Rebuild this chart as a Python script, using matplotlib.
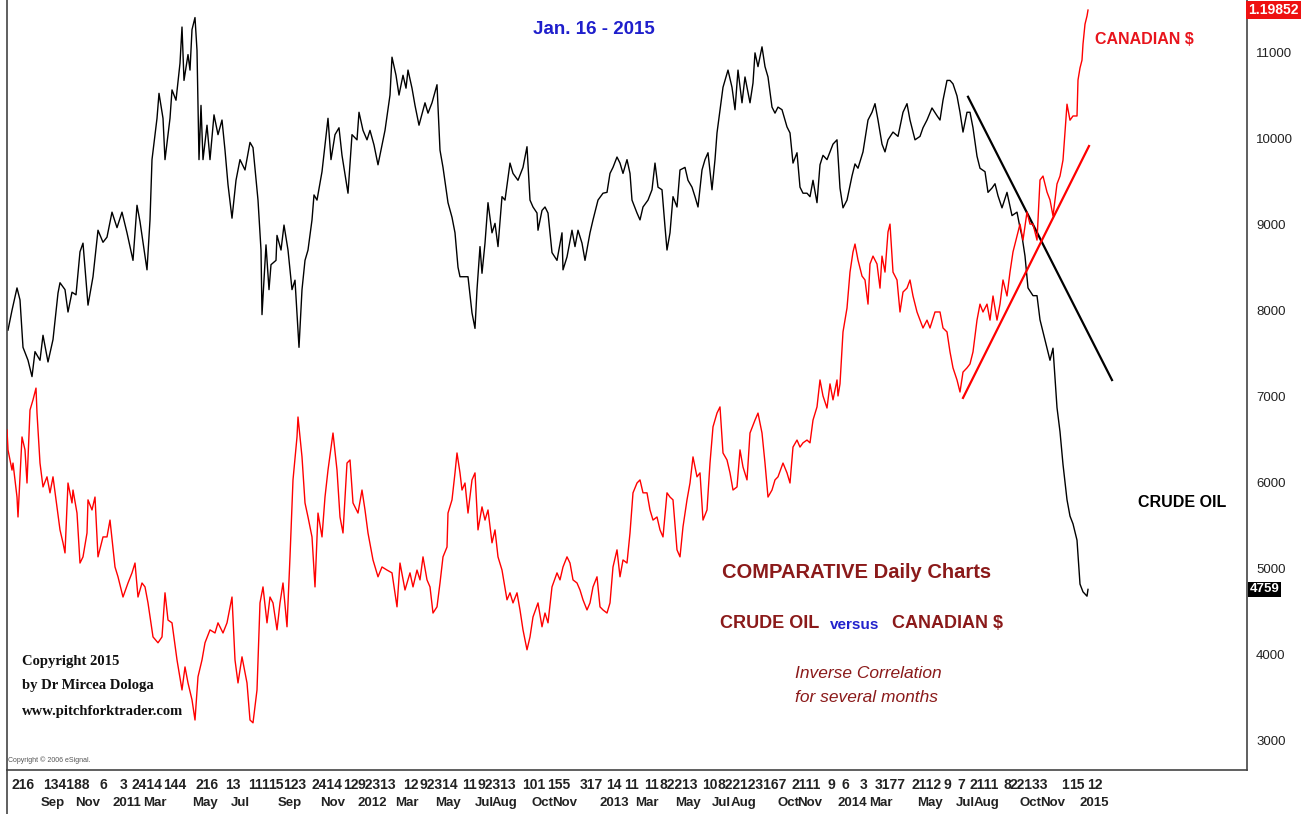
import matplotlib
matplotlib.use('Agg')
import matplotlib.pyplot as plt
from matplotlib.lines import Line2D

# crude oil (price x100)
oil_days = [8, 12, 17, 20, 23, 28, 32, 35, 40, 43, 48, 53, 58, 60, 65, 68, 72, 76, 80, 83,
            88, 93, 98, 103, 107, 112, 117, 122, 127, 133, 137, 140, 147, 150, 152, 157, 159, 163, 165, 170,
            172, 176, 180, 182, 184, 188, 190, 192, 195, 197, 199, 201, 203, 207, 210, 214, 218, 222, 225, 228,
            232, 236, 240, 245, 250, 253, 258, 261, 262, 266, 269, 271, 276, 277, 281, 284, 288, 292, 295, 299,
            302, 305, 308, 312, 314, 317, 322, 325, 328, 331, 335, 339, 342, 348, 352, 357, 359, 363, 367, 370,
            374, 378, 382, 385, 390, 392, 396, 399, 403, 406, 408, 412, 415, 419, 425, 428, 432, 437, 440, 443,
            448, 452, 455, 458, 460, 465, 468, 472, 475, 477, 480, 482, 485, 488, 492, 495, 498, 502, 505, 510,
            513, 518, 523, 527, 530, 533, 537, 538, 542, 545, 548, 552, 557, 562, 563, 567, 572, 575, 578, 582,
            585, 590, 593, 598, 603, 607, 610, 613, 617, 620, 623, 627, 630, 632, 637, 640, 643, 648, 652, 655,
            658, 662, 665, 667, 670, 673, 677, 680, 685, 688, 692, 695, 698, 702, 705, 708, 712, 715, 717, 720,
            723, 728, 732, 735, 738, 742, 745, 750, 753, 755, 758, 762, 765, 768, 772, 775, 778, 782, 787, 790,
            793, 797, 800, 803, 807, 810, 813, 817, 820, 823, 827, 833, 837, 840, 843, 847, 852, 855, 858, 863,
            868, 872, 875, 878, 882, 885, 888, 893, 898, 903, 907, 910, 915, 920, 923, 927, 932, 937, 940, 943,
            947, 950, 953, 957, 960, 963, 967, 970, 973, 977, 980, 985, 988, 992, 995, 998, 1002, 1007, 1012, 1017,
            1020, 1022, 1025, 1028, 1033, 1037, 1040, 1043, 1047, 1050, 1053, 1057, 1060, 1063, 1067, 1070, 1073, 1077, 1080, 1083,
            1087, 1088]
oil_vals = [7770, 8000, 8260, 8120, 7570, 7420, 7230, 7520, 7420, 7710, 7400, 7660, 8200, 8320, 8240, 7980, 8210, 8180, 8680, 8780,
            8060, 8390, 8930, 8790, 8850, 9140, 8960, 9140, 8900, 8580, 9220, 9030, 8470, 9050, 9750, 10230, 10520, 10230, 9750, 10230,
            10560, 10440, 10870, 11290, 10670, 10970, 10790, 11260, 11400, 11020, 9750, 10380, 9750, 10150, 9750, 10270, 10040, 10210, 9860, 9460,
            9070, 9510, 9750, 9630, 9950, 9890, 9280, 8700, 7950, 8760, 8240, 8530, 8580, 8870, 8700, 8990, 8700, 8240, 8350, 7570,
            8240, 8580, 8700, 9050, 9340, 9280, 9610, 9920, 10230, 9750, 10040, 10120, 9800, 9360, 10040, 9980, 10300, 10090, 9980, 10090,
            9920, 9690, 9920, 10090, 10500, 10940, 10730, 10500, 10730, 10580, 10790, 10580, 10380, 10150, 10410, 10290, 10410, 10620, 9860, 9660,
            9250, 9080, 8900, 8500, 8390, 8390, 8390, 7970, 7790, 8240, 8740, 8430, 8780, 9250, 8900, 9010, 8740, 9320, 9280, 9710,
            9590, 9510, 9660, 9900, 9280, 9200, 9130, 8930, 9160, 9200, 9130, 8670, 8580, 8900, 8470, 8620, 8930, 8740, 8930, 8780,
            8580, 8900, 9050, 9280, 9360, 9370, 9590, 9660, 9780, 9710, 9590, 9750, 9590, 9280, 9130, 9050, 9200, 9280, 9400, 9710,
            9430, 9400, 8970, 8700, 8900, 9320, 9200, 9630, 9660, 9510, 9430, 9320, 9200, 9630, 9750, 9830, 9400, 9750, 10060, 10330,
            10590, 10790, 10590, 10330, 10790, 10410, 10710, 10410, 10640, 10990, 10830, 11060, 10830, 10710, 10360, 10290, 10360, 10330, 10130, 10060,
            9710, 9830, 9430, 9360, 9360, 9320, 9510, 9250, 9690, 9800, 9750, 9930, 9980, 9420, 9190, 9280, 9560, 9700, 9650, 9840,
            10210, 10300, 10400, 10210, 9930, 9840, 9980, 10070, 10020, 10300, 10400, 10210, 9980, 10020, 10120, 10210, 10350, 10260, 10210, 10440,
            10670, 10670, 10630, 10490, 10300, 10070, 10300, 10300, 10120, 9790, 9650, 9610, 9370, 9420, 9470, 9330, 9190, 9370, 9100, 9140,
            8960, 8860, 8630, 8260, 8170, 8170, 7890, 7750, 7560, 7420, 7560, 6870, 6590, 6210, 5800, 5610, 5520, 5330, 4820, 4730,
            4680, 4759]

# canadian dollar (USD/CAD), same sessions scale
cad_days = [7, 8, 12, 13, 17, 18, 22, 25, 27, 30, 33, 36, 37, 40, 43, 47, 50, 53, 57, 60,
            63, 65, 68, 72, 73, 77, 80, 83, 87, 88, 92, 95, 98, 103, 107, 110, 115, 118, 123, 128,
            132, 135, 138, 142, 145, 148, 153, 158, 162, 165, 168, 172, 177, 182, 185, 188, 192, 195, 198, 202,
            205, 210, 215, 218, 223, 227, 232, 235, 238, 242, 247, 250, 253, 257, 260, 263, 267, 270, 273, 277,
            280, 283, 287, 290, 293, 297, 298, 302, 305, 308, 312, 315, 318, 322, 325, 328, 333, 337, 340, 343,
            347, 350, 353, 358, 362, 365, 368, 373, 378, 382, 387, 392, 397, 400, 405, 410, 413, 417, 420, 423,
            427, 430, 433, 437, 440, 443, 447, 448, 452, 455, 457, 460, 462, 465, 468, 472, 475, 478, 482, 485,
            488, 492, 495, 498, 502, 507, 510, 513, 517, 520, 523, 527, 530, 533, 538, 542, 545, 548, 552, 557,
            560, 563, 567, 570, 573, 577, 580, 583, 587, 590, 593, 597, 600, 603, 607, 610, 613, 617, 620, 623,
            627, 630, 633, 637, 640, 643, 647, 650, 653, 657, 660, 663, 667, 670, 673, 677, 680, 683, 687, 690,
            693, 697, 700, 703, 707, 710, 713, 717, 720, 723, 727, 730, 733, 737, 740, 743, 747, 750, 755, 758,
            762, 765, 768, 772, 775, 778, 783, 787, 790, 793, 797, 800, 803, 807, 810, 813, 817, 820, 823, 827,
            830, 833, 837, 838, 840, 843, 847, 850, 853, 855, 858, 862, 865, 868, 870, 873, 877, 880, 882, 885,
            888, 890, 893, 897, 900, 903, 907, 910, 913, 917, 920, 923, 927, 930, 935, 940, 943, 947, 950, 953,
            957, 960, 963, 967, 970, 973, 977, 980, 983, 987, 990, 993, 997, 1000, 1003, 1007, 1010, 1013, 1017, 1020,
            1023, 1027, 1030, 1033, 1037, 1040, 1043, 1047, 1050, 1053, 1057, 1060, 1063, 1067, 1070, 1073, 1077, 1078, 1080, 1082,
            1083, 1085, 1087, 1088]
cad_vals = [1.0490, 1.0419, 1.0347, 1.0372, 1.0251, 1.0180, 1.0465, 1.0419, 1.0301, 1.0561, 1.0597, 1.0639, 1.0550, 1.0372, 1.0287, 1.0323, 1.0266, 1.0323, 1.0216, 1.0134,
            1.0088, 1.0052, 1.0301, 1.0230, 1.0276, 1.0194, 1.0016, 1.0038, 1.0123, 1.0241, 1.0205, 1.0251, 1.0038, 1.0109, 1.0109, 1.0169, 1.0002, 0.9967, 0.9895, 0.9945,
            0.9981, 1.0016, 0.9895, 0.9945, 0.9931, 0.9874, 0.9753, 0.9732, 0.9753, 0.9910, 0.9813, 0.9803, 0.9671, 0.9564, 0.9646, 0.9589, 0.9529, 0.9457, 0.9611, 0.9671,
            0.9732, 0.9778, 0.9767, 0.9803, 0.9767, 0.9803, 0.9895, 0.9671, 0.9589, 0.9682, 0.9589, 0.9457, 0.9447, 0.9564, 0.9874, 0.9931, 0.9803, 0.9895, 0.9874, 0.9778,
            0.9874, 0.9945, 0.9789, 1.0038, 1.0312, 1.0465, 1.0536, 1.0394, 1.0230, 1.0180, 1.0109, 0.9931, 1.0194, 1.0109, 1.0251, 1.0347, 1.0479, 1.0347, 1.0180, 1.0123,
            1.0372, 1.0383, 1.0230, 1.0194, 1.0276, 1.0205, 1.0123, 1.0027, 0.9967, 1.0002, 0.9991, 0.9981, 0.9860, 1.0016, 0.9920, 0.9981, 0.9931, 0.9991, 0.9956, 1.0038,
            0.9956, 0.9931, 0.9838, 0.9860, 0.9945, 1.0038, 1.0073, 1.0194, 1.0241, 1.0337, 1.0408, 1.0337, 1.0276, 1.0301, 1.0194, 1.0312, 1.0337, 1.0134, 1.0216, 1.0169,
            1.0205, 1.0088, 1.0134, 1.0038, 0.9991, 0.9885, 0.9910, 0.9874, 0.9910, 0.9849, 0.9778, 0.9707, 0.9753, 0.9824, 0.9874, 0.9789, 0.9838, 0.9803, 0.9931, 0.9981,
            0.9956, 1.0002, 1.0038, 1.0016, 0.9956, 0.9945, 0.9920, 0.9885, 0.9849, 0.9874, 0.9931, 0.9967, 0.9860, 0.9849, 0.9838, 0.9874, 1.0002, 1.0063, 0.9967, 1.0027,
            1.0016, 1.0123, 1.0266, 1.0301, 1.0312, 1.0266, 1.0266, 1.0205, 1.0169, 1.0180, 1.0134, 1.0109, 1.0266, 1.0251, 1.0241, 1.0063, 1.0038, 1.0145, 1.0241, 1.0301,
            1.0394, 1.0323, 1.0337, 1.0169, 1.0205, 1.0372, 1.0501, 1.0550, 1.0572, 1.0408, 1.0383, 1.0337, 1.0276, 1.0287, 1.0419, 1.0358, 1.0312, 1.0479, 1.0525, 1.0550,
            1.0479, 1.0372, 1.0251, 1.0276, 1.0312, 1.0323, 1.0372, 1.0337, 1.0301, 1.0429, 1.0454, 1.0429, 1.0444, 1.0454, 1.0444, 1.0525, 1.0572, 1.0668, 1.0611, 1.0568,
            1.0654, 1.0597, 1.0668, 1.0611, 1.0654, 1.0839, 1.0924, 1.1052, 1.1124, 1.1152, 1.1095, 1.1038, 1.1024, 1.0938, 1.1081, 1.1109, 1.1081, 1.0995, 1.1109, 1.1052,
            1.1195, 1.1223, 1.1052, 1.1024, 1.0910, 1.0981, 1.0995, 1.1024, 1.0967, 1.0910, 1.0881, 1.0853, 1.0881, 1.0853, 1.0910, 1.0910, 1.0853, 1.0839, 1.0768, 1.0711,
            1.0668, 1.0625, 1.0696, 1.0711, 1.0725, 1.0768, 1.0881, 1.0938, 1.0910, 1.0938, 1.0881, 1.0967, 1.0881, 1.0938, 1.1024, 1.0967, 1.1052, 1.1124, 1.1180, 1.1223,
            1.1166, 1.1266, 1.1223, 1.1223, 1.1166, 1.1380, 1.1394, 1.1337, 1.1309, 1.1252, 1.1366, 1.1394, 1.1451, 1.1650, 1.1593, 1.1608, 1.1608, 1.1736, 1.1779, 1.1807,
            1.1864, 1.1935, 1.1964, 1.19852]

# hand-drawn trend lines
oil_trend_days = [968, 1112]
oil_trend_vals = [10480, 7190]
cad_trend_days = [963, 1089]
cad_trend_vals = [1.0604, 1.1501]

oil_ticks = [3000, 4000, 5000, 6000, 7000, 8000, 9000, 10000, 11000]

month_labels = ['Sep', 'Nov', '2011', 'Mar', 'May', 'Jul', 'Sep', 'Nov', '2012', 'Mar', 'May', 'Jul', 'Aug',
                'Oct', 'Nov', '2013', 'Mar', 'May', 'Jul', 'Aug', 'Oct', 'Nov', '2014', 'Mar', 'May', 'Jul',
                'Aug', 'Oct', 'Nov', '2015']
month_pos = [53, 88, 127, 155, 205, 240, 290, 333, 372, 407, 448, 484, 505,
             543, 565, 614, 647, 688, 721, 744, 788, 810, 852, 881, 930, 965,
             987, 1031, 1053, 1094]
day_labels = ['216', '134188', '6', '3', '2414', '144', '216', '13', '111', '15', '123', '2414', '12', '92313',
              '12', '92314', '11', '92313', '101', '155', '317', '14', '11', '11', '82213', '10', '822123167',
              '2111', '9', '6', '3', '3177', '2112', '9', '7', '2111', '8', '22133', '1', '15', '12']
day_pos = [12, 43, 100, 120, 131, 163, 196, 225, 248, 268, 283, 312, 343, 358,
           403, 419, 462, 478, 522, 547, 580, 606, 624, 644, 659, 702, 717,
           792, 827, 842, 860, 875, 911, 943, 957, 969, 1004, 1010, 1061, 1069, 1087]

plt.rcParams['font.family'] = ['Liberation Sans', 'DejaVu Sans']

W, H = 1308, 814
fig = plt.figure(figsize=(W / 100, H / 100), dpi=100)
fig.patch.set_facecolor('white')


def fpos(x, y):
    return x / W, 1 - y / H


ax = fig.add_axes([7 / W, 44 / H, 1240 / W, 770 / H])
ax.plot(oil_days, oil_vals, color='black', lw=1.0)
ax.plot(oil_trend_days, oil_trend_vals, color='black', lw=1.6)
ax.set_xlim(7, 1247)
ax.set_ylim(2661, 11604)
ax.set_xticks([])
ax.spines['top'].set_visible(False)
for s in ['left', 'right', 'bottom']:
    ax.spines[s].set_color('#444444')
    ax.spines[s].set_linewidth(1.2)

ax2 = ax.twinx()
ax2.plot(cad_days, cad_vals, color='#ff0000', lw=1.0)
ax2.plot(cad_trend_days, cad_trend_vals, color='#ff0000', lw=1.6)
ax2.set_ylim(0.9279, 1.2021)
ax2.set_yticks([])
for s in ax2.spines.values():
    s.set_visible(False)

# price scale on the right (twinx moves the ticks left, so set it afterwards)
ax.yaxis.tick_right()
ax.yaxis.set_label_position('right')
ax.set_yticks(oil_ticks)
ax.set_yticklabels([str(t) for t in oil_ticks])
ax.tick_params(axis='y', left=False, right=False, labelleft=False, labelright=True,
               pad=3, labelsize=9.5, labelcolor='#222222')

# last-value tags on the price scale
ax2.text(1.001, cad_vals[-1], f'{cad_vals[-1]:.5f}', transform=ax2.get_yaxis_transform(),
         ha='left', va='center', color='white', fontsize=10, fontweight='bold',
         bbox=dict(facecolor='#ee1111', edgecolor='none', pad=1.5))
ax.text(1.002, oil_vals[-1], f'{oil_vals[-1]}', transform=ax.get_yaxis_transform(),
        ha='left', va='center', color='white', fontsize=9.5, fontweight='bold',
        bbox=dict(facecolor='black', edgecolor='none', pad=1.2))

# two-row date axis
trans = ax.get_xaxis_transform()
for p, s in zip(day_pos, day_labels):
    ax.text(p, -15 / 770, s, transform=trans, ha='left', va='center', fontsize=10,
            fontweight='bold', color='#222222', clip_on=False)
for p, s in zip(month_pos, month_labels):
    ax.text(p, -33 / 770, s, transform=trans, ha='center', va='center', fontsize=9.5,
            fontweight='bold', color='#222222', clip_on=False)

# frame continues down past the date rows
fig.add_artist(Line2D([7 / W, 7 / W], [0, 44 / H], color='#444444', lw=1.2))

# annotations
darkred = '#8b1a1a'
fig.text(*fpos(594, 30), 'Jan. 16 - 2015', ha='center', va='center', color='#1f1fcc',
         fontsize=13.5, fontweight='bold')
fig.text(*fpos(1095, 40), 'CANADIAN $', ha='left', va='center', color='#e8141c',
         fontsize=11.5, fontweight='bold')
fig.text(*fpos(1138, 502), 'CRUDE OIL', ha='left', va='center', color='black',
         fontsize=11.5, fontweight='bold')
fig.text(*fpos(722, 573), 'COMPARATIVE Daily Charts', ha='left', va='center', color=darkred,
         fontsize=14.5, fontweight='bold')
fig.text(*fpos(720, 624), 'CRUDE OIL', ha='left', va='center', color=darkred,
         fontsize=13, fontweight='bold')
fig.text(*fpos(830, 625), 'versus', ha='left', va='center', color='#2222cc',
         fontsize=11, fontweight='bold')
fig.text(*fpos(892, 624), 'CANADIAN $', ha='left', va='center', color=darkred,
         fontsize=13, fontweight='bold')
fig.text(*fpos(795, 673), 'Inverse Correlation', ha='left', va='center', color=darkred,
         fontsize=12.5, style='italic')
fig.text(*fpos(795, 697), 'for several months', ha='left', va='center', color=darkred,
         fontsize=12.5, style='italic')

serif = ['Liberation Serif', 'DejaVu Serif']
for yy, line in zip([662, 686, 711], ['Copyright 2015', 'by Dr Mircea Dologa', 'www.pitchforktrader.com']):
    fig.text(*fpos(22, yy), line, ha='left', va='center', color='#111111',
             fontsize=10.5, fontweight='bold', family=serif)
fig.text(*fpos(8, 760), 'Copyright \u00a9 2006 eSignal.', ha='left', va='center',
         color='#555555', fontsize=5)

fig.savefig('out.png', dpi=100, facecolor='white')
